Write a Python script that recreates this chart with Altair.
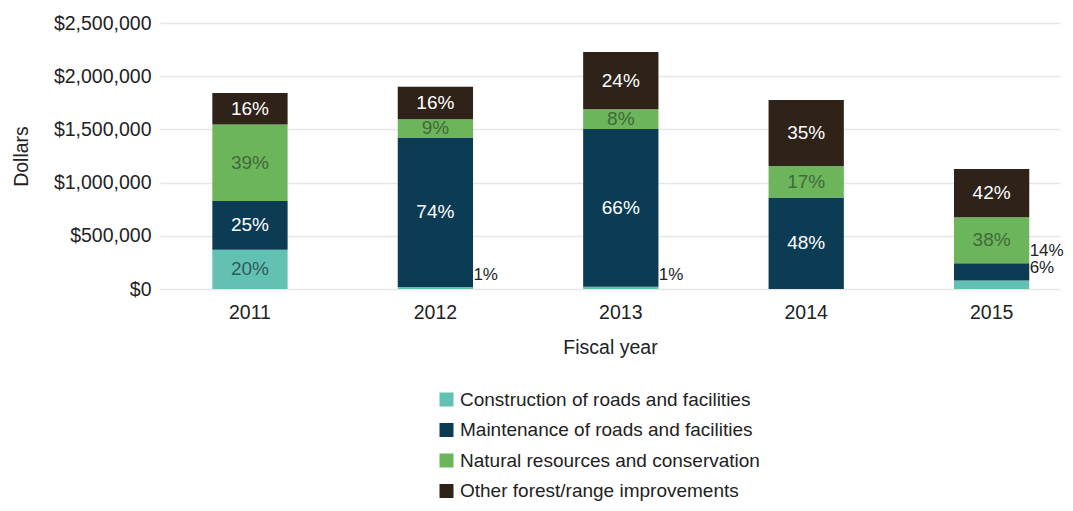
import altair as alt
import pandas as pd

years = ["2011", "2012", "2013", "2014", "2015"]
categories = [
    "Construction of roads and facilities",
    "Maintenance of roads and facilities",
    "Natural resources and conservation",
    "Other forest/range improvements",
]
construction = [368000, 19000, 22000, 0, 80000]
maintenance = [460000, 1406000, 1482000, 860000, 162000]
natural = [718000, 171000, 185000, 295000, 433000]
other = [295000, 304000, 538000, 621000, 453000]

construction_pct = ["20%", "1%", "1%", "", "6%"]
maintenance_pct = ["25%", "74%", "66%", "48%", "14%"]
natural_pct = ["39%", "9%", "8%", "17%", "38%"]
other_pct = ["16%", "16%", "24%", "35%", "42%"]
# whether a label sits beside the bar instead of inside its segment
construction_outside = [False, True, True, False, True]
maintenance_outside = [False, False, False, False, True]

colors = ["#63c1b3", "#0b3c54", "#6db55a", "#2e2219"]
inside_text = ["#2d5c58", "#ffffff", "#3f6a3c", "#ffffff"]

series = [construction, maintenance, natural, other]
pcts = [construction_pct, maintenance_pct, natural_pct, other_pct]
outs = [construction_outside, maintenance_outside, [False] * 5, [False] * 5]

rows = []
for yi, yr in enumerate(years):
    base = 0
    for ci, cat in enumerate(categories):
        v = series[ci][yi]
        rows.append({
            "year": yr, "category": cat, "value": v,
            "y0": base, "y1": base + v, "mid": base + v / 2,
            "pct": pcts[ci][yi], "outside": outs[ci][yi],
            "tcolor": inside_text[ci], "order": ci,
        })
        base += v
df = pd.DataFrame(rows)
df_bars = df[df["value"] > 0]
df_in = df[(~df["outside"]) & (df["pct"] != "")]
df_out = df[df["outside"]]

FONT = "Liberation Sans"
AX = 19.5

x = alt.X("year:N", title="Fiscal year",
          scale=alt.Scale(paddingInner=0.594, paddingOuter=0.224, align=0.63),
          axis=alt.Axis(labelAngle=0, labelFontSize=AX, labelColor="#222",
                        titleFontSize=AX, titleColor="#222", titleFontWeight="normal",
                        labelPadding=14, titlePadding=17, ticks=False, domain=False,
                        grid=False, labelFont=FONT, titleFont=FONT))

bars = alt.Chart(df_bars).mark_bar().encode(
    x=x,
    y=alt.Y("y0:Q", title="Dollars",
            scale=alt.Scale(domain=[0, 2500000], nice=False),
            axis=alt.Axis(values=[0, 500000, 1000000, 1500000, 2000000, 2500000],
                          format="$,.0f", labelFontSize=AX, labelColor="#222",
                          titleFontSize=AX, titleColor="#222", titleFontWeight="normal",
                          ticks=False, domain=False, gridColor="#e6e6e6", gridWidth=1.5,
                          labelPadding=9, titlePadding=22, labelFont=FONT, titleFont=FONT)),
    y2="y1:Q",
    color=alt.Color("category:N", scale=alt.Scale(domain=categories, range=colors),
                    legend=alt.Legend(title=None, orient="none", legendX=277, legendY=367,
                                      direction="vertical", symbolType="square",
                                      symbolSize=196, symbolStrokeWidth=0,
                                      labelFontSize=19, labelColor="#222", labelFont=FONT,
                                      labelLimit=500, rowPadding=10.5)),
)

inside = alt.Chart(df_in).mark_text(fontSize=19, font=FONT, baseline="middle").encode(
    x="year:N",
    y="mid:Q",
    text="pct:N",
    color=alt.Color("tcolor:N", scale=None),
)

outside = alt.Chart(df_out).mark_text(fontSize=17, font=FONT, baseline="middle",
                                      align="left", dx=38, dy=-12, color="#222").encode(
    x="year:N",
    y="y1:Q",
    text="pct:N",
)

chart = alt.layer(bars, inside, outside).properties(
    width=900, height=266,
    padding={"left": 152, "top": 15, "right": 5, "bottom": 214},
    autosize=alt.AutoSizeParams(type="none"),
).configure_view(stroke=None)

chart.save("out.html", embed_options={"renderer": "svg", "actions": False})
